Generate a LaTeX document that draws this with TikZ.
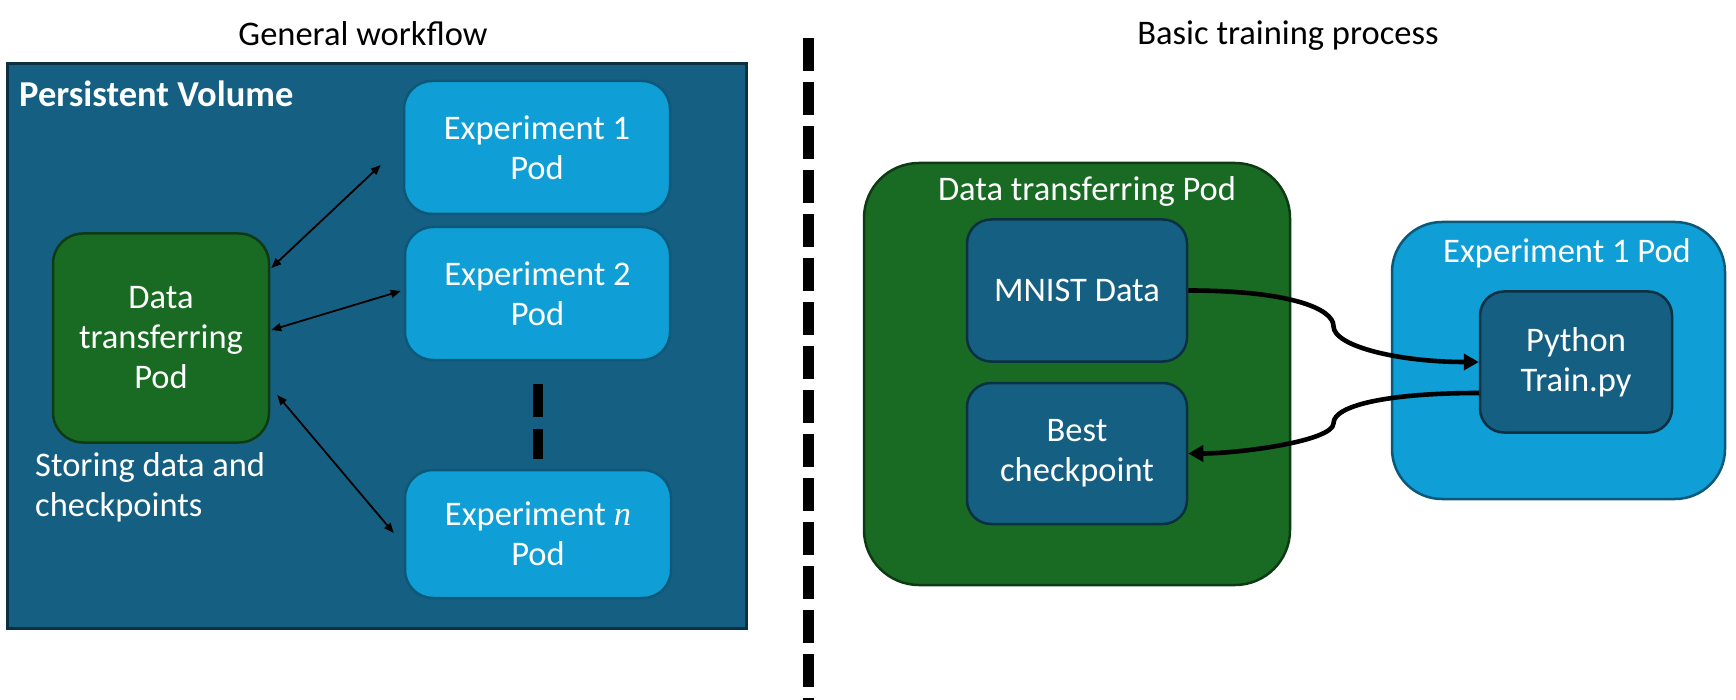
\documentclass[tikz,border=0pt]{standalone}
\usepackage{fontspec}
\setmainfont{Carlito}
\newfontfamily\serifit{Liberation Serif}
\usetikzlibrary{arrows.meta,calc}
\definecolor{pvblue}{HTML}{156082}
\definecolor{pvedge}{HTML}{0B3041}
\definecolor{podgreen}{HTML}{196B24}
\definecolor{greenedge}{HTML}{0E3A14}
\definecolor{expblue}{HTML}{0F9ED5}
\definecolor{expedge}{HTML}{0C5878}
\begin{document}
\begin{tikzpicture}[x=1pt,y=-1pt,
  txt/.style={font=\fontsize{34.5}{40}\selectfont, align=center, inner sep=0pt},
  wtxt/.style={txt, text=white},
  pvbox/.style={draw=pvedge, fill=pvblue, line width=3pt, inner sep=0pt},
  greenbox/.style={draw=greenedge, fill=podgreen, line width=2.5pt, inner sep=0pt},
  expbox/.style={draw=expedge, fill=expblue, line width=2.5pt, inner sep=0pt, rounded corners=28pt},
  darkbox/.style={draw=pvedge, fill=pvblue, line width=2.5pt, inner sep=0pt, rounded corners=24pt},
  thinarrow/.style={line width=1.8pt, {Triangle[length=10pt,width=8pt]}-{Triangle[length=10pt,width=8pt]}},
  thickarrow/.style={line width=4.6pt, -{Triangle[length=15pt,width=16pt]}},
  divider/.style={line width=11pt, dash pattern=on 33pt off 11pt}
]
\fill[white] (0,0) rectangle (1736,700);
\useasboundingbox (0,0) rectangle (1736,700);

% ---------- titles
\node[txt] (t1) at (363,34) {General workflow};
\node[txt] (t2) at (1288,36) {Basic training process};

% ---------- left: general workflow
\node[pvbox, minimum width=739pt, minimum height=564pt] (pv) at (377,346) {};
\node[wtxt, anchor=west, font=\fontsize{36.5}{42}\selectfont\bfseries] (pvt) at (19,94) {Persistent Volume};

\node[greenbox, rounded corners=30pt, minimum width=216pt, minimum height=209pt, wtxt] (dtp) at (161,338) {Data\\transferring\\Pod};
\node[wtxt, anchor=west, align=left] (store) at (35,487) {Storing data and\\checkpoints};

\node[expbox, minimum width=266pt, minimum height=133pt, wtxt] (e1) at (537,147.5) {Experiment 1\\Pod};
\node[expbox, minimum width=265pt, minimum height=133pt, wtxt] (e2) at (537.5,293.5) {Experiment 2\\Pod};
\node[expbox, minimum width=266pt, minimum height=128pt, wtxt] (en) at (538,534) {Experiment {\serifit\itshape n}\\Pod};

\draw[line width=10pt, dash pattern=on 33pt off 12pt] ($(e2.south)+(0.5,23)$) -- ($(en.north)+(0,-10)$);

\coordinate (a1s) at ($(dtp.east)+(1,-70)$);
\coordinate (a1e) at ($(e1.west)+(-22,17.5)$);
\coordinate (a2s) at ($(dtp.east)+(1,-8)$);
\coordinate (a2e) at ($(e2.west)+(-3,-2.5)$);
\coordinate (a3s) at ($(dtp.east)+(7,57)$);
\coordinate (a3e) at ($(en.west)+(-10,-1)$);
\draw[thinarrow] (a1s) -- (a1e);
\draw[thinarrow] (a2s) -- (a2e);
\draw[thinarrow] (a3s) -- (a3e);

% ---------- divider
\coordinate (dtop) at (808.5,38);
\coordinate (dbot) at (808.5,702);
\draw[divider] (dtop) -- (dbot);

% ---------- right: basic training process
\node[greenbox, rounded corners=55pt, minimum width=426pt, minimum height=422pt] (bigg) at (1077,374) {};
\node[wtxt] (biggt) at (1087,191) {Data transferring Pod};
\node[darkbox, minimum width=220pt, minimum height=142pt, wtxt] (mnist) at (1077,290.5) {MNIST Data};
\node[darkbox, minimum width=220pt, minimum height=141pt, wtxt] (best) at (1077,453.5) {Best\\checkpoint};

\node[draw=expedge, fill=expblue, line width=2.5pt, inner sep=0pt, rounded corners=50pt, minimum width=333pt, minimum height=277pt] (expr) at (1558.5,360.5) {};
\node[wtxt] (exprt) at (1567,253) {Experiment 1 Pod};
\node[darkbox, minimum width=192pt, minimum height=141pt, wtxt] (py) at (1576,362) {Python\\Train.py};

\coordinate (m1) at ($(mnist.east)!0.5!(py.west)$);
\coordinate (p2) at ($(py.west)+(0,31)$);
\coordinate (m2) at ($(p2)!0.5!(best.east)$);
\draw[thickarrow] (mnist.east) .. controls +(100,0) and +(0,-18) .. (m1)
   .. controls +(0,20) and +(-80,0) .. (py.west);
\draw[thickarrow] (p2) .. controls +(-90,0) and +(0,-18) .. (m2)
   .. controls +(0,18) and +(50,0) .. (best.east);
\end{tikzpicture}
\end{document}
